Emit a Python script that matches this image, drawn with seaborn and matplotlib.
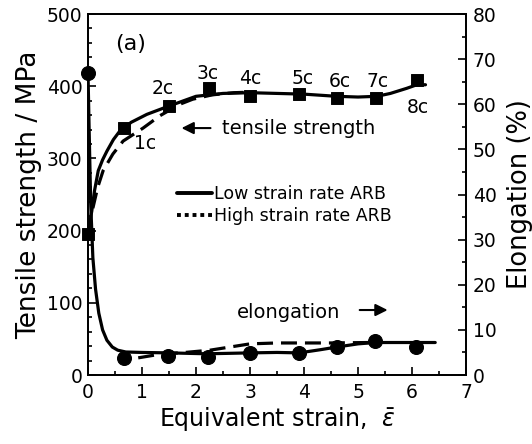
import matplotlib
matplotlib.use("Agg")
import matplotlib.pyplot as plt
from matplotlib.lines import Line2D
from matplotlib.ticker import MultipleLocator
import seaborn as sns
import pandas as pd

# ---- data ----
cycle_labels = ["1c", "2c", "3c", "4c", "5c", "6c", "7c", "8c"]
strain = [0.0, 0.67, 1.50, 2.24, 3.00, 3.91, 4.61, 5.33, 6.09]
tensile = [195, 342, 372, 397, 386, 389, 384, 384, 409]          # MPa
elong_strain = [0.0, 0.67, 1.48, 2.23, 3.00, 3.91, 4.61, 5.32, 6.07]
elongation = [67, 3.8, 4.2, 4.0, 4.9, 4.9, 6.2, 7.5, 6.2]          # %

# fitted curves
ts_low_x = [0.0, 0.03, 0.07, 0.12, 0.19, 0.27, 0.35, 0.47, 0.59, 0.80, 1.09, 1.48,
            2.0, 2.5, 3.0, 3.5, 4.0, 4.6, 5.0, 5.35, 5.6, 5.9, 6.09, 6.25]
ts_low_y = [195, 210, 227, 255, 283, 298, 310, 326, 338, 350, 361, 372,
            386, 390, 391, 390, 389, 386, 385, 386, 390, 397, 402, 402]
ts_high_x = [0.09, 0.18, 0.28, 0.46, 0.65, 1.02, 1.33, 1.70, 1.94, 2.3, 2.7, 3.1]
ts_high_y = [231, 260, 283, 306, 324, 342, 359, 375, 382, 388, 391, 392]
el_low_x = [0.0, 0.02, 0.05, 0.09, 0.14, 0.20, 0.27, 0.35, 0.45, 0.55, 0.70, 1.0,
            1.5, 2.2, 3.0, 3.5, 3.91, 4.3, 4.61, 5.0, 5.32, 6.0, 6.43]
el_low_y = [67, 55, 38, 26, 19, 13.7, 10, 7.7, 6.2, 5.5, 5.1, 5.0,
            4.9, 4.7, 4.9, 5.0, 4.9, 5.6, 6.2, 6.9, 7.2, 7.2, 7.2]
el_high_x = [0.93, 1.33, 1.8, 2.26, 2.63, 3.0, 3.5, 4.5, 5.2]
el_high_y = [3.8, 4.6, 5.0, 5.5, 6.2, 6.9, 7.1, 7.1, 7.2]

legend_labels = ["Low strain rate ARB", "High strain rate ARB"]

# ---- figure ----
sns.set_style("ticks")
plt.rcParams["font.family"] = ["DejaVu Sans"]
plt.rcParams["mathtext.fontset"] = "dejavusans"
for k in ["text.color", "axes.labelcolor", "xtick.color", "ytick.color",
          "axes.edgecolor"]:
    plt.rcParams[k] = "black"

fig = plt.figure(figsize=(5.32, 4.44), dpi=100)
ax = fig.add_axes([88 / 532, 69 / 444, 378 / 532, 361 / 444])
ax2 = ax.twinx()

LW = 2.3
dash = (0, (5, 2.5))

sns.lineplot(x=ts_low_x, y=ts_low_y, ax=ax, color="black", lw=LW, sort=False,
             estimator=None, zorder=3)
sns.lineplot(x=ts_high_x, y=ts_high_y, ax=ax, color="black", lw=LW, sort=False,
             estimator=None, zorder=3, linestyle=dash)
sns.scatterplot(x=strain, y=tensile, ax=ax, marker="s", s=70, color="black",
                edgecolor="black", zorder=4, clip_on=False)

sns.lineplot(x=el_low_x, y=el_low_y, ax=ax2, color="black", lw=LW, sort=False,
             estimator=None, zorder=3)
sns.lineplot(x=el_high_x, y=el_high_y, ax=ax2, color="black", lw=LW, sort=False,
             estimator=None, zorder=3, linestyle=dash)
sns.scatterplot(x=elong_strain, y=elongation, ax=ax2, marker="o", s=100,
                color="black", edgecolor="black", zorder=4, clip_on=False)

ax.set_xlim(0, 7)
ax.set_ylim(0, 500)
ax2.set_ylim(0, 80)

ax.xaxis.set_major_locator(MultipleLocator(1))
ax.xaxis.set_minor_locator(MultipleLocator(0.5))
ax.yaxis.set_major_locator(MultipleLocator(100))
ax.yaxis.set_minor_locator(MultipleLocator(20))
ax2.yaxis.set_major_locator(MultipleLocator(10))
ax2.yaxis.set_minor_locator(MultipleLocator(5))

for a in (ax, ax2):
    for s in a.spines.values():
        s.set_visible(True)
        s.set_linewidth(1.3)
        s.set_color("black")
ax.tick_params(axis="both", which="both", direction="in", top=False, right=False,
               labelsize=13.5, colors="black", width=1.2)
ax.tick_params(axis="both", which="major", length=6)
ax.tick_params(axis="both", which="minor", length=3)
ax.tick_params(axis="y", pad=4)
ax.tick_params(axis="x", pad=6)
ax2.tick_params(axis="y", which="both", direction="in", left=False, right=True,
                labelsize=13.5, width=1.2, pad=5, colors="black")
ax2.tick_params(axis="y", which="major", length=6)
ax2.tick_params(axis="y", which="minor", length=3)

ax.set_xlabel(r"Equivalent strain,  $\bar{\varepsilon}$", fontsize=17, labelpad=2)
ax.set_ylabel("Tensile strength / MPa", fontsize=19, labelpad=3)
ax2.set_ylabel("Elongation (%)", fontsize=18.5, labelpad=7)

# cycle labels
label_pos = [(1.06, 320), (1.39, 397), (2.22, 417), (3.0, 410), (3.98, 410),
             (4.67, 407), (5.37, 407), (6.11, 370)]
for lab, (lx, ly) in zip(cycle_labels, label_pos):
    ax.text(lx, ly, lab, fontsize=13.5, ha="center", va="center")

ax.text(0.78, 458, "(a)", fontsize=16, ha="center", va="center")

ax.annotate("", xy=(1.68, 342), xytext=(2.32, 342),
            arrowprops=dict(arrowstyle="-|>", color="black", lw=1.5,
                            mutation_scale=18))
ax.text(2.48, 342, "tensile strength", fontsize=14, ha="left", va="center")
ax.text(2.76, 86, "elongation", fontsize=14, ha="left", va="center")
ax.annotate("", xy=(5.6, 90), xytext=(4.98, 90),
            arrowprops=dict(arrowstyle="-|>", color="black", lw=1.5,
                            mutation_scale=18))

handles = [Line2D([], [], color="black", lw=2.8),
           Line2D([], [], color="black", lw=2.8, linestyle=(0, (1.0, 1.0)))]
leg = ax.legend(handles, legend_labels, loc="upper left",
                bbox_to_anchor=(0.236, 0.525), frameon=False, fontsize=12.5,
                handlelength=2.0, handletextpad=0.1, labelspacing=0.2,
                borderpad=0, borderaxespad=0)

fig.savefig("out.png", dpi=100)
